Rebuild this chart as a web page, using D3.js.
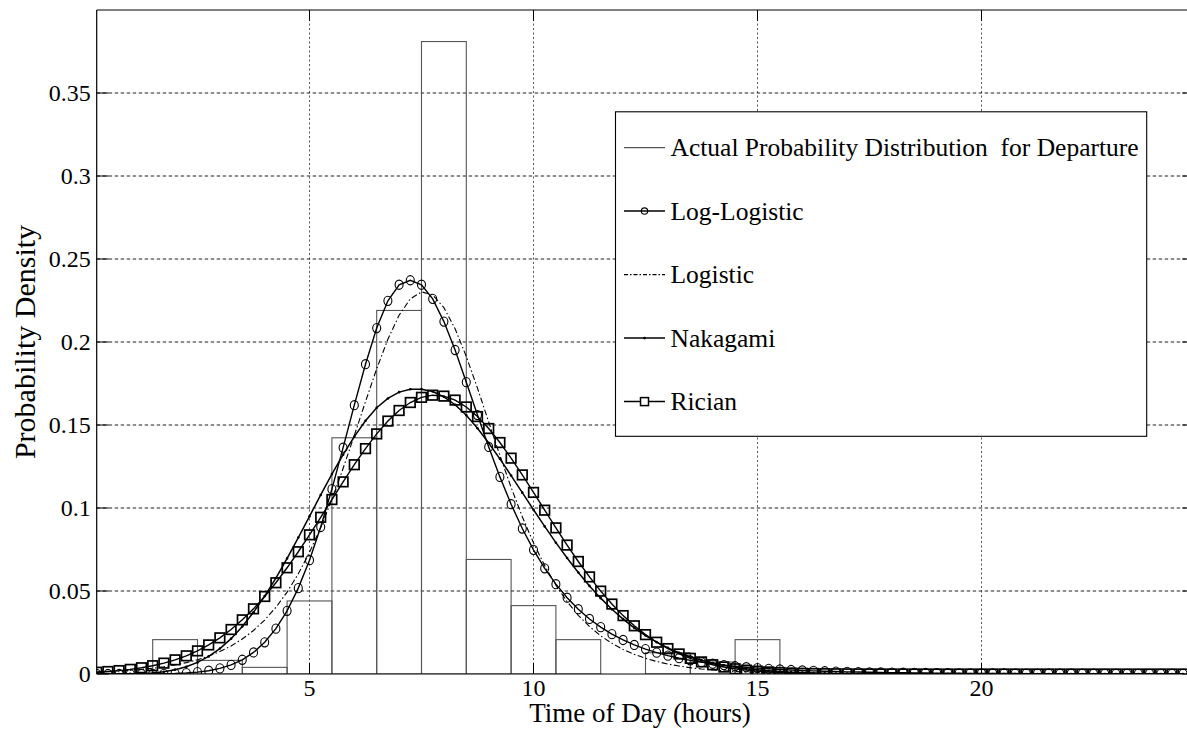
<!DOCTYPE html>
<html><head><meta charset="utf-8">
<script src="https://cdn.jsdelivr.net/npm/d3@7"></script>
<style>
body{margin:0;background:#fff;}
svg{display:block;}
text{font-family:"Liberation Serif","Times New Roman",serif;fill:#000;}
</style>
</head><body>
<svg id="chart" width="1187" height="730"></svg>
<script>
// ---------- data ----------
const binCenters = [2, 3, 4, 5, 6, 7, 8, 9, 10, 11, 12, 13, 14, 15];
const binValues  = [0.0207, 0.0082, 0.0040, 0.0440, 0.1423, 0.2190, 0.3810, 0.0690, 0.0412, 0.0207, 0, 0.0128, 0.0072, 0.0207];

// sample hours: 0.25 .. 24.5 every 0.25 h
const hours = d3.range(1, 99).map(i => i * 0.25);

const logLogistic = [
  0, 0, 0, 0,
  0.00002, 0.00005, 0.00013, 0.00028,
  0.00058, 0.00111, 0.00198, 0.00337,
  0.00547, 0.00857, 0.01299, 0.01909,
  0.02731, 0.03808, 0.05173, 0.06855,
  0.08855, 0.11137, 0.13634, 0.16194,
  0.18662, 0.20838, 0.22480, 0.23450,
  0.23720, 0.23450, 0.22600, 0.21230,
  0.19517, 0.17581, 0.15599, 0.13679,
  0.11875, 0.10230, 0.08764, 0.07480,
  0.06366, 0.05411, 0.04596, 0.03903,
  0.03315, 0.02821, 0.02401, 0.02049,
  0.01751, 0.01499, 0.01286, 0.01106,
  0.00952, 0.00822, 0.00712, 0.00617,
  0.00536, 0.00467, 0.00408, 0.00356,
  0.00312, 0.00274, 0.00241, 0.00212,
  0.00188, 0.00166, 0.00147, 0.00130,
  0.00116, 0.00103, 0.00092, 0.00082,
  0.00074, 0.00066, 0.00059, 0.00053,
  0.00048, 0.00043, 0.00039, 0.00035,
  0.00032, 0.00029, 0.00026, 0.00024,
  0.00022, 0.00020, 0.00018, 0.00016,
  0.00015, 0.00014, 0.00012, 0.00011,
  0.00010, 0.00010, 0.00009, 0.00008,
  0.00007, 0.00007
];

const logistic = [
  0.00110, 0.00139, 0.00175, 0.00220,
  0.00276, 0.00347, 0.00436, 0.00548,
  0.00687, 0.00862, 0.01080, 0.01352,
  0.01690, 0.02107, 0.02619, 0.03250,
  0.04014, 0.04934, 0.06036, 0.07328,
  0.08822, 0.10512, 0.12383, 0.14372,
  0.16406, 0.18389, 0.20167, 0.21612,
  0.22597, 0.23019, 0.22837, 0.22068,
  0.20793, 0.19128, 0.17218, 0.15185,
  0.13168, 0.11243, 0.09473, 0.07903,
  0.06528, 0.05351, 0.04362, 0.03537,
  0.02855, 0.02299, 0.01846, 0.01477,
  0.01182, 0.00944, 0.00753, 0.00600,
  0.00478, 0.00381, 0.00303, 0.00241,
  0.00192, 0.00152, 0.00121, 0.00096,
  0.00076, 0.00061, 0.00048, 0.00038,
  0.00030, 0.00024, 0.00019, 0.00015,
  0.00012, 0.00010, 0.00008, 0.00006,
  0.00005, 0.00004, 0.00003, 0.00002,
  0.00002, 0.00001, 0.00001, 0.00001,
  0, 0, 0, 0,
  0, 0, 0, 0,
  0, 0, 0, 0,
  0, 0, 0, 0,
  0, 0
];

const nakagami = [
  0, 0, 0.00002, 0.00009,
  0.00027, 0.00065, 0.00136, 0.00254,
  0.00436, 0.00698, 0.01060, 0.01533,
  0.02130, 0.02858, 0.03716, 0.04694,
  0.05780, 0.06965, 0.08216, 0.09500,
  0.10786, 0.12041, 0.13213, 0.14299,
  0.15259, 0.16041, 0.16600, 0.16980,
  0.17150, 0.17160, 0.17020, 0.16700,
  0.16220, 0.15583, 0.14808, 0.13917,
  0.12963, 0.11955, 0.10926, 0.09896,
  0.08892, 0.07911, 0.06986, 0.06112,
  0.05307, 0.04569, 0.03896, 0.03307,
  0.02779, 0.02317, 0.01920, 0.01575,
  0.01284, 0.01039, 0.00834, 0.00665,
  0.00526, 0.00413, 0.00322, 0.00250,
  0.00192, 0.00147, 0.00111, 0.00084,
  0.00063, 0.00047, 0.00034, 0.00025,
  0.00018, 0.00013, 0.00010, 0.00007,
  0.00005, 0.00003, 0.00002, 0.00002,
  0.00001, 0.00001, 0, 0,
  0, 0, 0, 0,
  0, 0, 0, 0,
  0, 0, 0, 0,
  0, 0, 0, 0,
  0, 0
];

const rician = [
  0.00107, 0.00149, 0.00205, 0.00279,
  0.00375, 0.00498, 0.00655, 0.00852,
  0.01095, 0.01393, 0.01752, 0.02179,
  0.02680, 0.03262, 0.03925, 0.04671,
  0.05497, 0.06399, 0.07365, 0.08384,
  0.09440, 0.10511, 0.11575, 0.12607,
  0.13577, 0.14463, 0.15236, 0.15874,
  0.16356, 0.16667, 0.16796, 0.16740,
  0.16501, 0.16086, 0.15508, 0.14787,
  0.13943, 0.13003, 0.11993, 0.10939,
  0.09868, 0.08804, 0.07767, 0.06778,
  0.05849, 0.04992, 0.04213, 0.03517,
  0.02904, 0.02371, 0.01914, 0.01529,
  0.01207, 0.00943, 0.00728, 0.00556,
  0.00420, 0.00314, 0.00232, 0.00170,
  0.00123, 0.00088, 0.00062, 0.00043,
  0.00030, 0.00020, 0.00014, 0.00009,
  0.00006, 0.00004, 0.00003, 0.00002,
  0.00001, 0.00001, 0.00001, 0,
  0, 0, 0, 0,
  0, 0, 0, 0,
  0, 0, 0, 0,
  0, 0, 0, 0,
  0, 0, 0, 0,
  0, 0
];

const xTickValues = [5, 10, 15, 20];
const yTickValues = [0, 0.05, 0.1, 0.15, 0.2, 0.25, 0.3, 0.35];
const yTickLabels = ["0", "0.05", "0.1", "0.15", "0.2", "0.25", "0.3", "0.35"];
const legendLabels = ["Actual Probability Distribution  for Departure", "Log-Logistic", "Logistic", "Nakagami", "Rician"];
const xLabel = "Time of Day (hours)";
const yLabel = "Probability Density";

// ---------- layout ----------
const L = 96.7, R = 1194.3, T = 10, B = 674;
const svg = d3.select("#chart");
const x = d3.scaleLinear().domain([0.25, 24.75]).range([L, R]);
const y = d3.scaleLinear().domain([0, 0.4]).range([B, T]);

svg.append("rect").attr("width", 1187).attr("height", 730).attr("fill", "#fff");

svg.append("defs").append("clipPath").attr("id", "clip")
  .append("rect").attr("x", L).attr("y", T).attr("width", R - L).attr("height", B - T);

// grid
const grid = svg.append("g");
grid.selectAll("line.vg").data(xTickValues).join("line")
  .attr("x1", d => x(d)).attr("x2", d => x(d)).attr("y1", T).attr("y2", B)
  .attr("stroke", "#555").attr("stroke-width", 1).attr("stroke-dasharray", "2,2.5");
grid.selectAll("line.hg").data(yTickValues.filter(v => v > 0)).join("line")
  .attr("x1", L).attr("x2", R).attr("y1", d => y(d)).attr("y2", d => y(d))
  .attr("stroke", "#222").attr("stroke-width", 1).attr("stroke-dasharray", "3.5,2.5");

// histogram
const plot = svg.append("g").attr("clip-path", "url(#clip)");
plot.selectAll("rect.bar").data(binCenters.map((c, i) => ({c, v: binValues[i]})).filter(d => d.v > 0)).join("rect")
  .attr("x", d => x(d.c - 0.5)).attr("width", d => x(d.c + 0.5) - x(d.c - 0.5))
  .attr("y", d => y(d.v)).attr("height", d => y(0) - y(d.v))
  .attr("fill", "none").attr("stroke", "#555").attr("stroke-width", 1.1);

// curves
function pts(vals) { return hours.map((h, i) => [h, vals[i]]); }
const line = d3.line().x(d => x(d[0])).y(d => y(d[1]));

// Rician
plot.append("path").attr("d", line(pts(rician))).attr("fill", "none").attr("stroke", "#000").attr("stroke-width", 1.4);
plot.selectAll("rect.sq").data(pts(rician)).join("rect")
  .attr("x", d => x(d[0]) - 4.8).attr("y", d => y(d[1]) - 4.8).attr("width", 9.6).attr("height", 9.6)
  .attr("fill", "none").attr("stroke", "#000").attr("stroke-width", 1.7);

// Nakagami
plot.append("path").attr("d", line(pts(nakagami))).attr("fill", "none").attr("stroke", "#000").attr("stroke-width", 1.5);
plot.selectAll("circle.dot").data(pts(nakagami)).join("circle")
  .attr("cx", d => x(d[0])).attr("cy", d => y(d[1])).attr("r", 1.3).attr("fill", "#000");

// Logistic
plot.append("path").attr("d", line(pts(logistic))).attr("fill", "none").attr("stroke", "#000")
  .attr("stroke-width", 1.1).attr("stroke-dasharray", "6,2.5,1.5,2.5");

// Log-Logistic
plot.append("path").attr("d", line(pts(logLogistic))).attr("fill", "none").attr("stroke", "#000").attr("stroke-width", 1.4);
plot.selectAll("ellipse.ll").data(pts(logLogistic)).join("ellipse")
  .attr("cx", d => x(d[0])).attr("cy", d => y(d[1])).attr("rx", 4).attr("ry", 4.6)
  .attr("fill", "none").attr("stroke", "#000").attr("stroke-width", 1.1);

// frame
svg.append("line").attr("x1", L).attr("x2", L).attr("y1", T).attr("y2", B).attr("stroke", "#000").attr("stroke-width", 1.2);
svg.append("line").attr("x1", L).attr("x2", R).attr("y1", T).attr("y2", T).attr("stroke", "#000").attr("stroke-width", 1.2);
svg.append("line").attr("x1", L).attr("x2", R).attr("y1", B).attr("y2", B).attr("stroke", "#000").attr("stroke-width", 1.2);
svg.append("line").attr("x1", R).attr("x2", R).attr("y1", T).attr("y2", B).attr("stroke", "#000").attr("stroke-width", 1.2);

// ticks (inward, both sides)
const tk = svg.append("g").attr("stroke", "#000").attr("stroke-width", 1);
yTickValues.forEach(v => {
  tk.append("line").attr("x1", L).attr("x2", L + 12).attr("y1", y(v)).attr("y2", y(v));
  tk.append("line").attr("x1", R).attr("x2", R - 12).attr("y1", y(v)).attr("y2", y(v));
});
xTickValues.forEach(v => {
  tk.append("line").attr("x1", x(v)).attr("x2", x(v)).attr("y1", B).attr("y2", B - 11);
  tk.append("line").attr("x1", x(v)).attr("x2", x(v)).attr("y1", T).attr("y2", T + 11);
});

// tick labels
svg.selectAll("text.yt").data(yTickValues).join("text")
  .attr("x", L - 6).attr("y", d => y(d)).attr("dy", "0.34em")
  .attr("text-anchor", "end").attr("font-size", 24).text((d, i) => yTickLabels[i]);
svg.selectAll("text.xt").data(xTickValues).join("text")
  .attr("x", d => x(d)).attr("y", 696)
  .attr("text-anchor", "middle").attr("font-size", 24).text(d => d);

// axis labels
svg.append("text").attr("x", 640).attr("y", 722).attr("text-anchor", "middle").attr("font-size", 27).text(xLabel);
svg.append("text").attr("transform", "translate(35,342) rotate(-90)").attr("text-anchor", "middle").attr("font-size", 30).text(yLabel);

// legend
const lg = svg.append("g");
lg.append("rect").attr("x", 615.5).attr("y", 111.8).attr("width", 531.2).attr("height", 324.5)
  .attr("fill", "#fff").attr("stroke", "#000").attr("stroke-width", 1.1);
const ly = i => 147.6 + i * 63.5;
const lx1 = 624, lx2 = 665, lxm = 644.5;
legendLabels.forEach((lab, i) => {
  lg.append("text").attr("x", 670.5).attr("y", ly(i) + 8.8).attr("font-size", 25.5)
    .style("white-space", "pre").text(lab);
});
// Actual
lg.append("line").attr("x1", lx1).attr("x2", lx2).attr("y1", ly(0)).attr("y2", ly(0)).attr("stroke", "#555").attr("stroke-width", 1.1);
// Log-Logistic
lg.append("line").attr("x1", lx1).attr("x2", lx2).attr("y1", ly(1)).attr("y2", ly(1)).attr("stroke", "#000").attr("stroke-width", 1.5);
lg.append("circle").attr("cx", lxm).attr("cy", ly(1)).attr("r", 3.2).attr("fill", "none").attr("stroke", "#000").attr("stroke-width", 1.1);
// Logistic
lg.append("line").attr("x1", lx1).attr("x2", lx2).attr("y1", ly(2)).attr("y2", ly(2)).attr("stroke", "#000").attr("stroke-width", 1.1).attr("stroke-dasharray", "4,2,1.5,2");
// Nakagami
lg.append("line").attr("x1", lx1).attr("x2", lx2).attr("y1", ly(3)).attr("y2", ly(3)).attr("stroke", "#000").attr("stroke-width", 1.5);
lg.append("circle").attr("cx", lxm).attr("cy", ly(3)).attr("r", 1.3).attr("fill", "#000");
// Rician
lg.append("line").attr("x1", lx1).attr("x2", lx2).attr("y1", ly(4)).attr("y2", ly(4)).attr("stroke", "#000").attr("stroke-width", 1.5);
lg.append("rect").attr("x", lxm - 4).attr("y", ly(4) - 4).attr("width", 8).attr("height", 8).attr("fill", "#fff").attr("stroke", "#000").attr("stroke-width", 1.5);
</script>
</body></html>
